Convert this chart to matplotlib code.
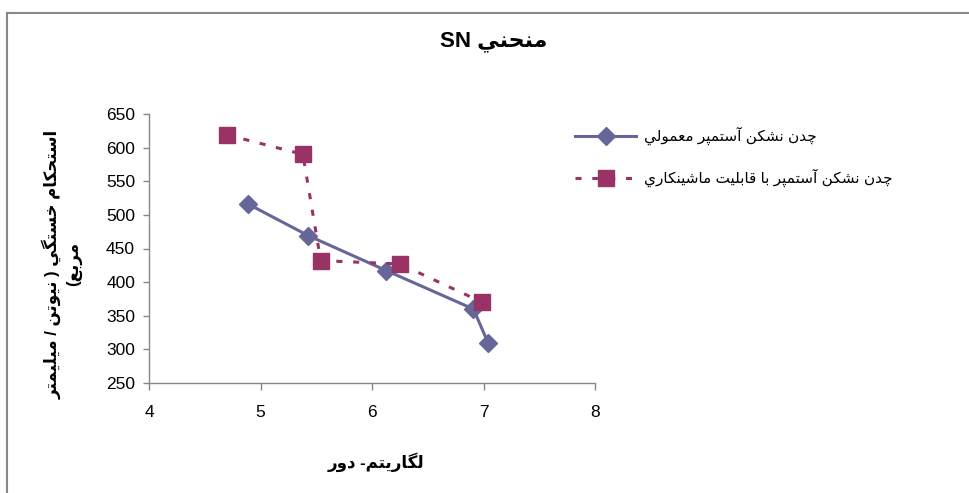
import matplotlib
matplotlib.use("Agg")
from matplotlib import pyplot as plt
from matplotlib.lines import Line2D

# data
x_normal = [4.89, 5.43, 6.13, 6.91, 7.04]
y_normal = [516, 469, 417, 360, 310]
x_machinable = [4.70, 5.38, 5.54, 6.25, 6.99]
y_machinable = [619, 590, 432, 427, 370]
x_ticks = [4, 5, 6, 7, 8]
y_ticks = [250, 300, 350, 400, 450, 500, 550, 600, 650]

title_text = "منحني"
xlabel_text = "لگاريتم- دور"
ylabel_lines = ["استحكام خستگي ( نيوتن / ميليمتر", "مربع)"]
legend_normal = "چدن نشكن آستمپر معمولي"
legend_machinable = "چدن نشكن آستمپر با قابليت ماشينكاري"

# (isolated, final, initial, medial) presentation forms
FORMS = {
    'ا': ('\uFE8D', '\uFE8E', None, None),
    'آ': ('\uFE81', '\uFE82', None, None),
    'د': ('\uFEA9', '\uFEAA', None, None),
    'ر': ('\uFEAD', '\uFEAE', None, None),
    'و': ('\uFEED', '\uFEEE', None, None),
    'ب': ('\uFE8F', '\uFE90', '\uFE91', '\uFE92'),
    'ت': ('\uFE95', '\uFE96', '\uFE97', '\uFE98'),
    'ح': ('\uFEA1', '\uFEA2', '\uFEA3', '\uFEA4'),
    'خ': ('\uFEA5', '\uFEA6', '\uFEA7', '\uFEA8'),
    'س': ('\uFEB1', '\uFEB2', '\uFEB3', '\uFEB4'),
    'ش': ('\uFEB5', '\uFEB6', '\uFEB7', '\uFEB8'),
    'ع': ('\uFEC9', '\uFECA', '\uFECB', '\uFECC'),
    'ق': ('\uFED5', '\uFED6', '\uFED7', '\uFED8'),
    'ك': ('\uFED9', '\uFEDA', '\uFEDB', '\uFEDC'),
    'ل': ('\uFEDD', '\uFEDE', '\uFEDF', '\uFEE0'),
    'م': ('\uFEE1', '\uFEE2', '\uFEE3', '\uFEE4'),
    'ن': ('\uFEE5', '\uFEE6', '\uFEE7', '\uFEE8'),
    'ي': ('\uFEF1', '\uFEF2', '\uFEF3', '\uFEF4'),
    'پ': ('\uFB56', '\uFB57', '\uFB58', '\uFB59'),
    'چ': ('\uFB7A', '\uFB7B', '\uFB7C', '\uFB7D'),
    'گ': ('\uFB92', '\uFB93', '\uFB94', '\uFB95'),
}
MIRROR = {'(': ')', ')': '('}


def rtl(s):
    out = []
    for i, c in enumerate(s):
        if c not in FORMS:
            out.append(MIRROR.get(c, c))
            continue
        prev = s[i - 1] if i > 0 else ''
        nxt = s[i + 1] if i + 1 < len(s) else ''
        join_prev = prev in FORMS and FORMS[prev][2] is not None
        join_next = FORMS[c][2] is not None and nxt in FORMS
        iso, fin, ini, med = FORMS[c]
        if join_prev and join_next:
            out.append(med)
        elif join_prev:
            out.append(fin)
        elif join_next:
            out.append(ini)
        else:
            out.append(iso)
    return ''.join(reversed(out))


plt.rcParams['font.family'] = ['Liberation Sans', 'DejaVu Sans']

W, H = 970, 493
fig = plt.figure(figsize=(W / 100, H / 100), dpi=100)

# outer chart border (top and left visible)
fig.add_artist(Line2D([7 / W, 7 / W], [0, 1 - 13 / H], transform=fig.transFigure, color='#888888', lw=1.5))
fig.add_artist(Line2D([7 / W, 1], [1 - 13 / H, 1 - 13 / H], transform=fig.transFigure, color='#888888', lw=1.5))

ax = fig.add_axes([149 / W, 1 - 383 / H, 446 / W, 269 / H])

ax.plot(x_normal, y_normal, color='#666699', lw=2.2, marker='D', ms=9.5,
        label=rtl(legend_normal), zorder=3)
ax.plot(x_machinable, y_machinable, color='#993366', lw=2.2, dashes=(2, 3.5),
        marker='s', ms=11.5, label=rtl(legend_machinable), zorder=4)

ax.set_xlim(4, 8)
ax.set_ylim(250, 650)
ax.set_xticks(x_ticks)
ax.set_yticks(y_ticks)
ax.tick_params(axis='x', length=5, width=1, color='#868686', pad=11, labelsize=12.5)
ax.tick_params(axis='y', length=4, width=1, color='#868686', pad=6, labelsize=12.5)
for side in ['top', 'right']:
    ax.spines[side].set_visible(False)
for side in ['left', 'bottom']:
    ax.spines[side].set_color('#868686')
    ax.spines[side].set_linewidth(1)

fig.text(494 / W, 1 - 41 / H, 'SN ' + rtl(title_text), ha='center', va='center',
         fontsize=16, fontweight='bold')
fig.text(376 / W, 1 - 462 / H, rtl(xlabel_text), ha='center', va='center',
         fontsize=12, fontweight='bold')
fig.text(62 / W, 1 - 264 / H, '\n'.join(rtl(t) for t in ylabel_lines), rotation=90,
         ha='center', va='center', multialignment='center', fontsize=12,
         fontweight='bold', linespacing=1.3)

fig.legend(loc='upper left', bbox_to_anchor=(575 / W, 1 - 127 / H), frameon=False,
           fontsize=11, handlelength=4.0, handletextpad=0.5, labelspacing=1.55,
           borderpad=0, borderaxespad=0)

fig.savefig('out.png', dpi=100)
